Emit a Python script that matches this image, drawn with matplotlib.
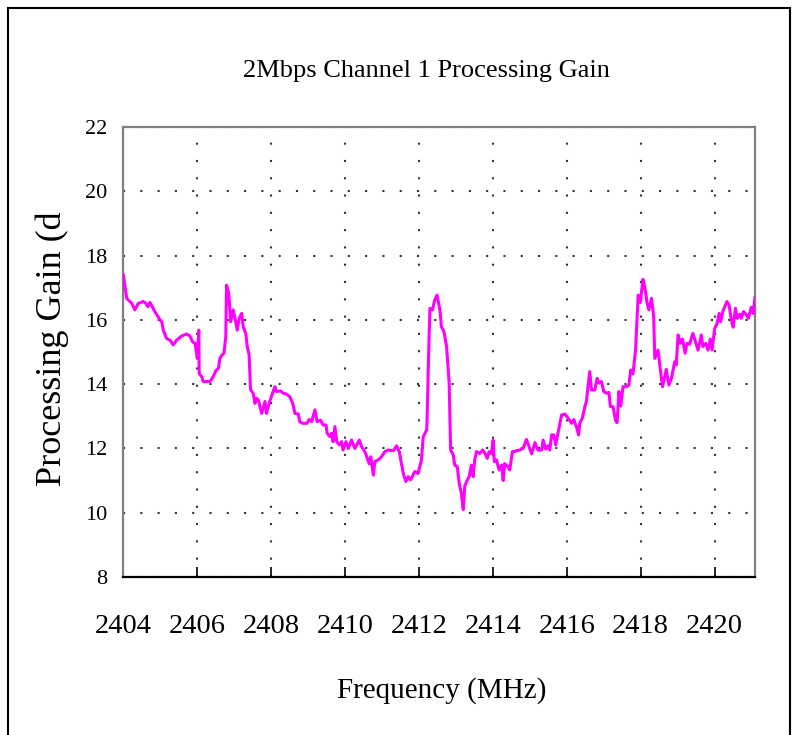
"""2Mbps channel 1 processing gain vs frequency (Excel-style line chart)."""

import matplotlib
matplotlib.use("Agg")
import matplotlib.pyplot as plt
from matplotlib.patches import Rectangle

plt.rcParams["font.family"] = ["Liberation Serif", "DejaVu Serif"]

TITLE = "2Mbps Channel 1 Processing Gain"
X_LABEL = "Frequency (MHz)"
Y_LABEL = "Processing Gain (d"

X_TICKS = [2404, 2406, 2408, 2410, 2412, 2414, 2416, 2418, 2420]
Y_TICKS = [8, 10, 12, 14, 16, 18, 20, 22]

# MHz
FREQ_MHZ = [
    2404.01, 2404.10, 2404.24, 2404.32, 2404.41, 2404.55, 2404.62, 2404.67, 2404.73, 2404.86,
    2405.00, 2405.05, 2405.09, 2405.18, 2405.27, 2405.36, 2405.45, 2405.59, 2405.72, 2405.81,
    2405.88, 2405.95, 2405.99, 2406.01, 2406.05, 2406.06, 2406.13, 2406.17, 2406.35, 2406.44,
    2406.51, 2406.58, 2406.62, 2406.68, 2406.73, 2406.78, 2406.80, 2406.86, 2406.91, 2406.98,
    2407.03, 2407.09, 2407.14, 2407.21, 2407.25, 2407.32, 2407.36, 2407.41, 2407.45, 2407.52,
    2407.57, 2407.61, 2407.66, 2407.75, 2407.84, 2407.88, 2407.95, 2408.06, 2408.11, 2408.15,
    2408.26, 2408.33, 2408.42, 2408.51, 2408.59, 2408.65, 2408.74, 2408.78, 2408.86, 2408.97,
    2409.04, 2409.10, 2409.19, 2409.25, 2409.34, 2409.41, 2409.49, 2409.52, 2409.59, 2409.64,
    2409.68, 2409.73, 2409.78, 2409.85, 2409.91, 2409.95, 2410.03, 2410.09, 2410.18, 2410.27,
    2410.39, 2410.45, 2410.54, 2410.59, 2410.66, 2410.70, 2410.77, 2410.81, 2410.90, 2410.99,
    2411.08, 2411.17, 2411.31, 2411.40, 2411.47, 2411.53, 2411.58, 2411.65, 2411.71, 2411.78,
    2411.89, 2411.98, 2412.07, 2412.12, 2412.21, 2412.22, 2412.26, 2412.30, 2412.37, 2412.43,
    2412.49, 2412.57, 2412.61, 2412.68, 2412.75, 2412.82, 2412.86, 2412.93, 2412.97, 2413.04,
    2413.09, 2413.15, 2413.20, 2413.24, 2413.29, 2413.36, 2413.42, 2413.47, 2413.51, 2413.56,
    2413.65, 2413.72, 2413.78, 2413.85, 2413.90, 2413.96, 2414.01, 2414.04, 2414.10, 2414.17,
    2414.24, 2414.28, 2414.32, 2414.41, 2414.46, 2414.53, 2414.59, 2414.64, 2414.73, 2414.82,
    2414.91, 2414.98, 2415.05, 2415.14, 2415.22, 2415.32, 2415.36, 2415.43, 2415.49, 2415.54,
    2415.59, 2415.65, 2415.70, 2415.77, 2415.86, 2415.95, 2416.04, 2416.13, 2416.19, 2416.26,
    2416.32, 2416.35, 2416.42, 2416.49, 2416.53, 2416.62, 2416.67, 2416.76, 2416.82, 2416.87,
    2416.94, 2417.00, 2417.07, 2417.14, 2417.18, 2417.25, 2417.32, 2417.36, 2417.41, 2417.46,
    2417.52, 2417.61, 2417.68, 2417.73, 2417.79, 2417.86, 2417.93, 2417.99, 2418.06, 2418.11,
    2418.17, 2418.22, 2418.29, 2418.35, 2418.38, 2418.47, 2418.51, 2418.59, 2418.65, 2418.69,
    2418.76, 2418.83, 2418.92, 2418.96, 2419.01, 2419.07, 2419.13, 2419.20, 2419.25, 2419.32,
    2419.41, 2419.46, 2419.55, 2419.64, 2419.68, 2419.76, 2419.82, 2419.88, 2419.93, 2420.00,
    2420.06, 2420.12, 2420.16, 2420.22, 2420.33, 2420.39, 2420.45, 2420.50, 2420.56, 2420.61,
    2420.68, 2420.72, 2420.78, 2420.86, 2420.91, 2420.99, 2421.04, 2421.09,
]

# processing gain, dB
GAIN_DB = [
    17.40, 16.67, 16.51, 16.31, 16.51, 16.57, 16.51, 16.41, 16.54, 16.26,
    16.00, 15.94, 15.68, 15.42, 15.37, 15.22, 15.37, 15.50, 15.56, 15.50,
    15.32, 15.27, 14.96, 14.80, 15.68, 14.33, 14.23, 14.08, 14.08, 14.23,
    14.42, 14.49, 14.80, 14.91, 14.96, 15.48, 17.08, 16.83, 15.94, 16.31,
    16.05, 15.68, 16.05, 16.20, 15.79, 15.58, 15.17, 14.91, 13.82, 13.72,
    13.40, 13.56, 13.51, 13.09, 13.46, 13.09, 13.40, 13.77, 13.92, 13.77,
    13.79, 13.72, 13.69, 13.61, 13.40, 13.09, 13.07, 12.83, 12.78, 12.78,
    12.90, 12.83, 13.20, 12.83, 12.88, 12.73, 12.73, 12.47, 12.37, 12.47,
    12.21, 12.68, 12.21, 12.11, 12.21, 11.95, 12.21, 12.00, 12.26, 12.00,
    12.26, 12.06, 11.90, 11.74, 11.52, 11.74, 11.17, 11.59, 11.64, 11.74,
    11.90, 11.95, 11.93, 12.08, 11.90, 11.53, 11.22, 10.97, 11.12, 11.02,
    11.28, 11.22, 11.64, 12.37, 12.57, 12.78, 14.75, 16.36, 16.31, 16.62,
    16.77, 16.31, 15.79, 15.63, 15.17, 14.03, 11.95, 11.80, 11.48, 11.43,
    10.92, 10.60, 10.10, 10.81, 10.97, 11.12, 11.48, 11.12, 11.64, 11.90,
    11.84, 11.95, 11.87, 11.69, 11.90, 11.84, 12.26, 11.59, 11.64, 11.33,
    11.48, 11.00, 11.53, 11.43, 11.33, 11.90, 11.90, 11.93, 11.95, 12.00,
    12.28, 12.06, 11.83, 12.18, 11.95, 11.95, 12.26, 11.98, 12.08, 11.95,
    12.42, 12.42, 12.11, 12.52, 13.04, 13.07, 12.94, 12.78, 12.90, 12.68,
    12.42, 12.78, 12.94, 13.30, 13.46, 14.39, 13.82, 13.82, 14.18, 14.03,
    14.08, 13.77, 13.72, 13.74, 13.30, 13.30, 12.88, 12.80, 13.77, 13.32,
    13.92, 13.92, 13.97, 14.44, 14.32, 15.06, 16.77, 16.54, 17.26, 17.03,
    16.54, 16.31, 16.67, 16.10, 14.80, 15.06, 14.64, 13.92, 14.23, 14.46,
    13.97, 14.18, 14.70, 14.60, 15.53, 15.27, 15.40, 14.96, 15.27, 15.24,
    15.58, 15.40, 15.06, 15.53, 15.17, 15.27, 15.06, 15.40, 15.06, 15.74,
    15.87, 16.20, 15.94, 16.26, 16.57, 16.46, 16.00, 15.77, 16.36, 16.05,
    16.18, 16.05, 16.26, 16.15, 16.05, 16.39, 16.20, 16.70,
]

LINE_COLOR = "#FF00FF"
FRAME_GRAY = "#808080"
GRID_COLOR = "#333333"


def main() -> None:
    fig = plt.figure(figsize=(7.95, 7.35), dpi=100)
    ax = fig.add_axes([0.1547, 0.2150, 0.7950, 0.6122])

    ax.plot(FREQ_MHZ, GAIN_DB, color=LINE_COLOR, linewidth=2.2,
            solid_joinstyle="round", zorder=3)

    ax.set_xlim(2404, FREQ_MHZ[-1])
    ax.set_ylim(Y_TICKS[0], Y_TICKS[-1])
    ax.set_xticks(X_TICKS)
    ax.set_yticks(Y_TICKS)

    # sparse Excel-like dotted grid
    ax.grid(True, color=GRID_COLOR, linewidth=1.5,
            linestyle=(0, (1, 7.3)), zorder=1)

    for side in ("left", "top", "right"):
        ax.spines[side].set_color(FRAME_GRAY)
        ax.spines[side].set_linewidth(1.6)
    ax.spines["bottom"].set_color("black")
    ax.spines["bottom"].set_linewidth(1.6)

    ax.tick_params(axis="x", direction="in", length=7, width=1.2,
                   color="black", labelsize=20.5, pad=27)
    ax.tick_params(axis="y", length=0, labelsize=16, pad=11)

    fig.text(0.536, 0.904, TITLE, ha="center", va="center", fontsize=19)
    fig.text(0.556, 0.061, X_LABEL, ha="center", va="center", fontsize=21)
    fig.text(0.066, 0.526, Y_LABEL, ha="center", va="center",
             rotation=90, fontsize=26)

    # outer chart frame (open at the bottom edge of the image)
    fig.patches.append(Rectangle((0.0101, -0.05), 0.9836, 1.039,
                                 transform=fig.transFigure, fill=False,
                                 edgecolor="black", linewidth=1.5))

    fig.savefig("out.png", dpi=100)
    plt.close(fig)


if __name__ == "__main__":
    main()
